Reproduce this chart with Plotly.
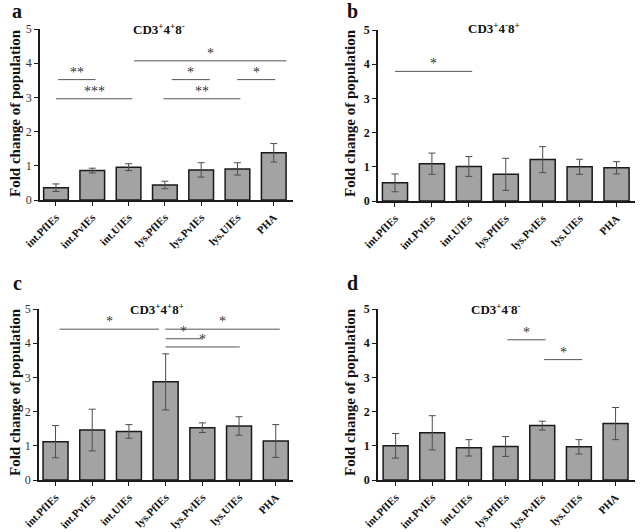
import plotly.graph_objects as go

categories = ["int.PfIEs", "int.PvIEs", "int.UIEs", "lys.PfIEs", "lys.PvIEs", "lys.UIEs", "PHA"]

vals_a = [0.36, 0.86, 0.96, 0.44, 0.88, 0.91, 1.38]
err_a = [0.11, 0.07, 0.10, 0.11, 0.21, 0.18, 0.27]
vals_b = [0.53, 1.09, 1.01, 0.78, 1.21, 1.00, 0.97]
err_b = [0.26, 0.31, 0.29, 0.47, 0.38, 0.22, 0.18]
vals_c = [1.12, 1.46, 1.42, 2.87, 1.53, 1.58, 1.14]
err_c = [0.47, 0.61, 0.20, 0.82, 0.14, 0.27, 0.48]
vals_d = [1.00, 1.38, 0.94, 0.98, 1.59, 0.97, 1.65]
err_d = [0.36, 0.50, 0.24, 0.29, 0.13, 0.21, 0.47]

titles = ["CD3<sup>+</sup>4<sup>+</sup>8<sup>-</sup>",
          "CD3<sup>+</sup>4<sup>-</sup>8<sup>+</sup>",
          "CD3<sup>+</sup>4<sup>+</sup>8<sup>+</sup>",
          "CD3<sup>+</sup>4<sup>-</sup>8<sup>-</sup>"]
letters = ["a", "b", "c", "d"]

# significance brackets: (x_start, x_end, y, label)
sig_a = [(0.06, 1.09, 3.52, "**"), (0.0, 2.1, 2.96, "***"), (2.15, 6.35, 4.07, "*"),
         (3.19, 4.24, 3.52, "*"), (4.99, 6.04, 3.52, "*"), (2.96, 5.08, 2.96, "**")]
sig_b = [(0.0, 2.09, 3.79, "*")]
sig_c = [(0.11, 2.82, 4.41, "*"), (2.99, 6.11, 4.41, "*"), (3.0, 3.98, 4.13, "*"), (3.0, 5.02, 3.89, "*")]
sig_d = [(3.05, 4.09, 4.10, "*"), (4.05, 5.09, 3.52, "*")]

W, H = 640, 532
SERIF = "Liberation Serif"

panels = [
    dict(vals=vals_a, err=err_a, sig=sig_a, xpx=(40, 293), ypx=(29, 200), xr=[-0.44, 6.53], bold=False,
         title_xy=(159, 29), letter_xy=(17, 11), ytitle_xy=(15, 113)),
    dict(vals=vals_b, err=err_b, sig=sig_b, xpx=(378, 635), ypx=(30, 201), xr=[-0.46, 6.5], bold=True,
         title_xy=(494, 28), letter_xy=(352, 11), ytitle_xy=(350, 113)),
    dict(vals=vals_c, err=err_c, sig=sig_c, xpx=(39, 293), ypx=(309, 480), xr=[-0.45, 6.47], bold=False,
         title_xy=(157, 309), letter_xy=(17, 283), ytitle_xy=(15, 392)),
    dict(vals=vals_d, err=err_d, sig=sig_d, xpx=(378, 635), ypx=(309, 480), xr=[-0.48, 6.53], bold=True,
         title_xy=(496, 309), letter_xy=(352, 283), ytitle_xy=(350, 392)),
]

fig = go.Figure()
shapes = []
annotations = []

for i, p in enumerate(panels):
    n = i + 1
    xa = "x" if n == 1 else f"x{n}"
    ya = "y" if n == 1 else f"y{n}"
    fig.add_trace(go.Bar(
        x=categories, y=p["vals"], xaxis=xa, yaxis=ya, width=0.68,
        marker=dict(color="#a3a3a3", line=dict(color="#1a1a1a", width=1.5)),
        error_y=dict(type="data", array=p["err"], visible=True, color="#4d4d4d", thickness=1, width=3.5),
        showlegend=False))
    xd = [p["xpx"][0] / W, p["xpx"][1] / W]
    yd = [1 - p["ypx"][1] / H, 1 - p["ypx"][0] / H]
    ax_key = "xaxis" if n == 1 else f"xaxis{n}"
    ay_key = "yaxis" if n == 1 else f"yaxis{n}"
    fig.layout[ax_key] = dict(
        domain=xd, anchor=ya, type="category", range=p["xr"], automargin=False,
        showline=True, linecolor="#1a1a1a", linewidth=1.5, ticks="outside", ticklen=4,
        tickcolor="#1a1a1a", tickwidth=1, showgrid=False, zeroline=False, tickangle=-45,
        ticklabelstandoff=1,
        tickfont=dict(family=SERIF, size=11, color="#111", weight="bold"))
    fig.layout[ay_key] = dict(
        domain=yd, anchor=xa, range=[0, 5], tickvals=[0, 1, 2, 3, 4, 5], automargin=False,
        showline=True, linecolor="#1a1a1a", linewidth=1.5, ticks="outside", ticklen=4,
        tickcolor="#1a1a1a", tickwidth=1, showgrid=False, zeroline=False,
        tickfont=dict(family=SERIF, size=12, color="#111" if p["bold"] else "#333",
                      weight="bold" if p["bold"] else "normal"))
    for (x0, x1, yv, lab) in p["sig"]:
        shapes.append(dict(type="line", xref=xa, yref=ya, x0=x0, x1=x1, y0=yv, y1=yv,
                           line=dict(color="#555", width=1)))
        annotations.append(dict(xref=xa, yref=ya, x=(x0 + x1) / 2, y=yv, yanchor="bottom",
                                text=lab, showarrow=False, yshift=-2,
                                font=dict(family=SERIF, size=14, color="#333")))
    tx, ty = p["title_xy"]
    annotations.append(dict(xref="paper", yref="paper", x=tx / W, y=1 - ty / H, text=titles[i],
                            showarrow=False, xanchor="center", yanchor="middle",
                            font=dict(family=SERIF, size=13, color="#111", weight="bold")))
    lx, ly = p["letter_xy"]
    annotations.append(dict(xref="paper", yref="paper", x=lx / W, y=1 - ly / H, text=letters[i],
                            showarrow=False, xanchor="center", yanchor="middle",
                            font=dict(family=SERIF, size=20, color="#111", weight="bold")))
    yx, yy = p["ytitle_xy"]
    annotations.append(dict(xref="paper", yref="paper", x=yx / W, y=1 - yy / H,
                            text="Fold change of population", textangle=-90,
                            showarrow=False, xanchor="center", yanchor="middle",
                            font=dict(family=SERIF, size=15, color="#111", weight="bold")))

fig.update_layout(template="none", width=W, height=H, margin=dict(l=0, r=0, t=0, b=0, autoexpand=False),
                  paper_bgcolor="white", plot_bgcolor="white",
                  shapes=shapes, annotations=annotations, bargap=0.32)

fig.write_html("out.html", config={"displayModeBar": False},
               post_script="document.body.style.margin='0';document.body.style.overflow='hidden';")
